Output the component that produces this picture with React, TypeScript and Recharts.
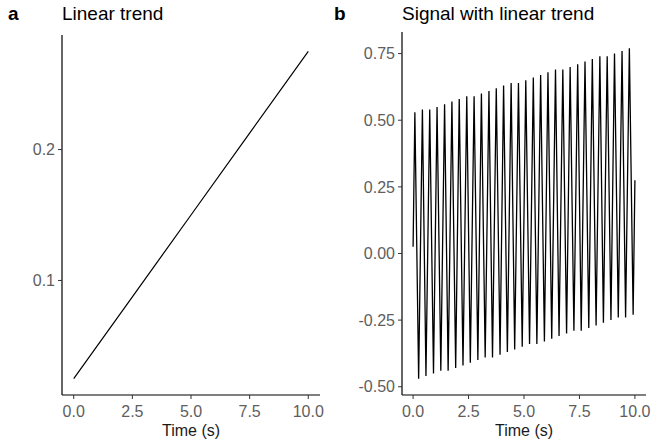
import { LineChart, Line, XAxis, YAxis, Label } from "recharts";

// panel a: the trend on its own
const trendTime = [0, 2.5, 5, 7.5, 10];
const trendValue = [0.025, 0.0875, 0.15, 0.2125, 0.275];

// panel b: 3 Hz signal + trend, read as its peaks and troughs
const signalStart = { t: 0, v: 0.025 };
const signalEnd = { t: 10, v: 0.275 };
const peakTimes = [0.08, 0.42, 0.75, 1.08, 1.42, 1.75, 2.08, 2.42, 2.75, 3.08, 3.42, 3.75, 4.08, 4.42, 4.75, 5.08, 5.42, 5.75, 6.08, 6.42, 6.75, 7.08, 7.42, 7.75, 8.08, 8.42, 8.75, 9.08, 9.42, 9.75];
const peakValues = [0.53, 0.54, 0.54, 0.55, 0.56, 0.57, 0.58, 0.59, 0.59, 0.6, 0.61, 0.62, 0.63, 0.64, 0.64, 0.65, 0.66, 0.67, 0.68, 0.69, 0.69, 0.7, 0.71, 0.72, 0.73, 0.74, 0.74, 0.75, 0.76, 0.77];
const troughTimes = [0.25, 0.58, 0.92, 1.25, 1.58, 1.92, 2.25, 2.58, 2.92, 3.25, 3.58, 3.92, 4.25, 4.58, 4.92, 5.25, 5.58, 5.92, 6.25, 6.58, 6.92, 7.25, 7.58, 7.92, 8.25, 8.58, 8.92, 9.25, 9.58, 9.92];
const troughValues = [-0.47, -0.46, -0.45, -0.44, -0.44, -0.43, -0.42, -0.41, -0.4, -0.39, -0.39, -0.38, -0.37, -0.36, -0.35, -0.34, -0.34, -0.33, -0.32, -0.31, -0.3, -0.29, -0.29, -0.28, -0.27, -0.26, -0.25, -0.24, -0.24, -0.23];

const timeTicks = [0, 2.5, 5, 7.5, 10];
const trendTicks = [0.1, 0.2];
const signalTicks = [-0.5, -0.25, 0, 0.25, 0.5, 0.75];

const trendData = trendTime.map((t, i) => ({ t, v: trendValue[i] }));
const signalData = [signalStart];
peakTimes.forEach((t, i) => {
  signalData.push({ t, v: peakValues[i] });
  signalData.push({ t: troughTimes[i], v: troughValues[i] });
});
signalData.push(signalEnd);

const font = "'Liberation Sans', Arial, sans-serif";
const tickStyle = { fill: "#5e5e5e", fontSize: 16, fontFamily: font };
const axisLine = { stroke: "#000", strokeWidth: 1.2 };
const tickLine = { stroke: "#333" };

function Title({ x, letter, lx, text }: { x: number; letter: string; lx: number; text: string }) {
  return (
    <>
      <div style={{ position: "absolute", left: lx, top: 3, fontSize: 19, fontWeight: "bold", fontFamily: font }}>{letter}</div>
      <div style={{ position: "absolute", left: x, top: 3, fontSize: 19, fontFamily: font, whiteSpace: "nowrap" }}>{text}</div>
    </>
  );
}

export default function App() {
  return (
    <div style={{ position: "absolute", left: 0, top: 0, width: 652, height: 444, background: "#fff" }}>
      <Title x={62} lx={8} letter="a" text="Linear trend" />
      <Title x={402} lx={334} letter="b" text="Signal with linear trend" />

      <div style={{ position: "absolute", left: 0, top: 0 }}>
        <LineChart width={330} height={444} data={trendData} margin={{ top: 35, right: 10, bottom: 0, left: 0 }}>
          <XAxis dataKey="t" type="number" domain={[-0.5, 10.5]} ticks={timeTicks} tickFormatter={(v) => v.toFixed(1)}
            height={49} tick={tickStyle} axisLine={axisLine} tickLine={tickLine} tickSize={4} tickMargin={7}>
            <Label value="Time (s)" position="insideBottom" offset={8} style={{ fill: "#1a1a1a", fontSize: 16, fontFamily: font }} />
          </XAxis>
          <YAxis type="number" domain={[0.0125, 0.2875]} ticks={trendTicks} tickFormatter={(v) => v.toFixed(1)}
            width={62} tick={tickStyle} axisLine={axisLine} tickLine={tickLine} tickSize={4} tickMargin={3} allowDataOverflow />
          <Line dataKey="v" stroke="#000" strokeWidth={1.2} dot={false} isAnimationActive={false} />
        </LineChart>
      </div>

      <div style={{ position: "absolute", left: 330, top: 0 }}>
        <LineChart width={322} height={444} data={signalData} margin={{ top: 32, right: 6, bottom: 0, left: 0 }}>
          <XAxis dataKey="t" type="number" domain={[-0.5, 10.5]} ticks={timeTicks} tickFormatter={(v) => v.toFixed(1)}
            height={49} tick={tickStyle} axisLine={axisLine} tickLine={tickLine} tickSize={4} tickMargin={7}>
            <Label value="Time (s)" position="insideBottom" offset={8} style={{ fill: "#1a1a1a", fontSize: 16, fontFamily: font }} />
          </XAxis>
          <YAxis type="number" domain={[-0.531, 0.831]} ticks={signalTicks} tickFormatter={(v) => v.toFixed(2)}
            width={72} tick={tickStyle} axisLine={axisLine} tickLine={tickLine} tickSize={4} tickMargin={3} allowDataOverflow />
          <Line dataKey="v" stroke="#000" strokeWidth={1.3} dot={false} isAnimationActive={false} />
        </LineChart>
      </div>
    </div>
  );
}
